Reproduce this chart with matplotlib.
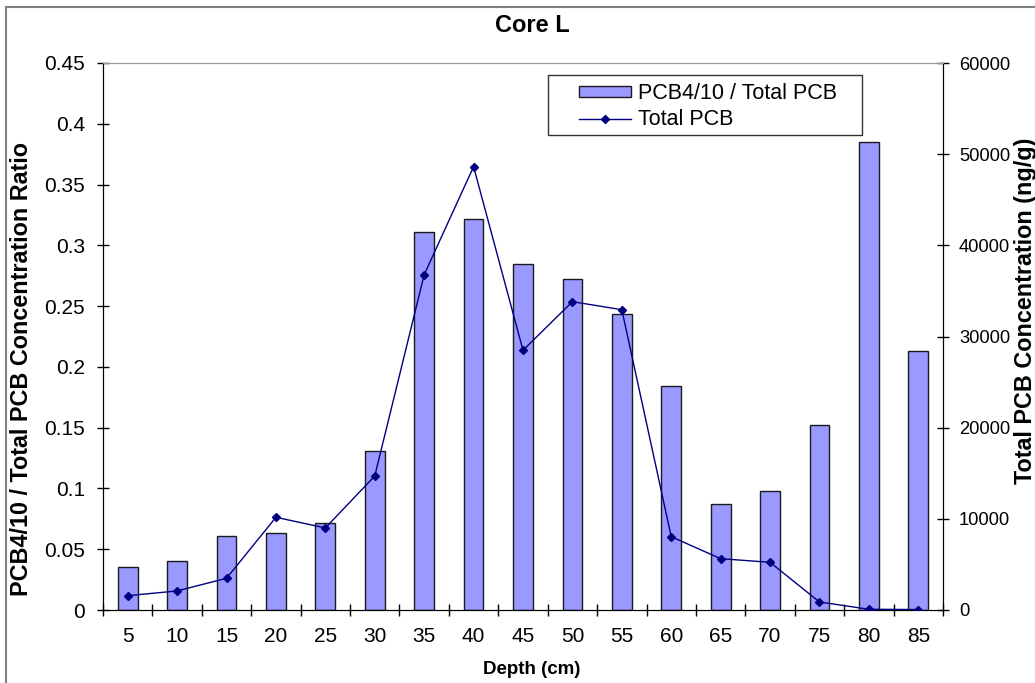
import numpy as np
import matplotlib
matplotlib.use("Agg")
import matplotlib.pyplot as plt
from matplotlib.patches import Rectangle

plt.rcParams['font.family'] = ['Liberation Sans', 'DejaVu Sans']

# depth (cm) categories
depth = ['5', '10', '15', '20', '25', '30', '35', '40', '45',
         '50', '55', '60', '65', '70', '75', '80', '85']
# PCB4/10 / Total PCB ratio (bars, left axis)
ratio = [0.0356, 0.0406, 0.0606, 0.0631, 0.0718, 0.1308, 0.3107, 0.3217, 0.2844,
         0.2726, 0.2435, 0.1843, 0.0875, 0.0979, 0.152, 0.3853, 0.2133]
# Total PCB concentration ng/g (line, right axis)
total_pcb = [1570, 2090, 3480, 10170, 9000, 14700, 36780, 48630, 28490,
             33820, 32940, 8040, 5630, 5230, 880, 80, 50]

left_ticks = [0, 0.05, 0.1, 0.15, 0.2, 0.25, 0.3, 0.35, 0.4, 0.45]
right_ticks = [0, 10000, 20000, 30000, 40000, 50000, 60000]

W, H = 1035, 683
fig = plt.figure(figsize=(W / 100, H / 100), dpi=100)
ax = fig.add_axes([103 / W, 1 - 610 / H, 840 / W, 547 / H])
ax2 = ax.twinx()


def px(xp, yp):
    # figure pixel (from top-left) -> axes fraction
    return (xp - 103) / 840, (610 - yp) / 547


x = np.arange(len(depth))
bars = ax.bar(x, ratio, width=0.4, color='#9999FF', edgecolor='#1a1a1a',
              linewidth=1.0, label='PCB4/10 / Total PCB', zorder=2)
line, = ax2.plot(x, total_pcb, color='#000080', linewidth=1.0, marker='D',
                 markersize=4.5, label='Total PCB', zorder=3)

ax.set_xlim(-0.5, len(depth) - 0.5)
ax.set_ylim(0, 0.45)
ax2.set_ylim(0, 60000)

ax.set_xticks(x)
ax.set_xticklabels(depth)
ax.set_xticks(np.arange(-0.5, len(depth)), minor=True)
ax.tick_params(axis='x', which='major', length=0, pad=12, labelsize=15)
ax.tick_params(axis='x', which='minor', direction='inout', length=9, width=1)

ax.set_yticks(left_ticks)
ax.set_yticklabels(['%g' % v for v in left_ticks])
ax.tick_params(axis='y', direction='inout', length=9, width=1, labelsize=15, pad=8.5)

ax2.set_yticks(right_ticks)
ax2.set_yticklabels([str(v) for v in right_ticks])
ax2.tick_params(axis='y', direction='inout', length=9, width=1, labelsize=13.2, pad=7)

for a in (ax, ax2):
    a.spines['top'].set_color('#999999')
    a.spines['left'].set_color('black')
    a.spines['right'].set_color('black')
    a.spines['bottom'].set_color('black')

fig.text(532 / W, 1 - 25 / H, 'Core L', ha='center', va='center',
         fontsize=17, fontweight='bold')
fig.text(532 / W, 1 - 669 / H, 'Depth (cm)', ha='center', va='center',
         fontsize=13.5, fontweight='bold')
fig.text(22 / W, 1 - 369 / H, 'PCB4/10 / Total PCB Concentration Ratio',
         ha='center', va='center', rotation=90, fontsize=16.8, fontweight='bold')
# partly cut by the right edge, as in the original
fig.text(1014 / W, 1 - 138 / H, 'Total PCB Concentration (ng/g)',
         ha='left', va='top', rotation=90, fontsize=16.8, fontweight='bold')

# legend box drawn separately, entries without frame
x0, y0 = px(548, 135)
x1, y1 = px(862, 75)
ax2.add_patch(Rectangle((x0, y0), x1 - x0, y1 - y0, transform=ax2.transAxes,
                        facecolor='white', edgecolor='#333333', linewidth=1.0,
                        zorder=4))
leg = ax2.legend([bars, line], ['PCB4/10 / Total PCB', 'Total PCB'],
                 loc='upper left', bbox_to_anchor=px(579, 83),
                 borderaxespad=0, borderpad=0, frameon=False, fontsize=15.5,
                 handlelength=2.4, handleheight=0.4, handletextpad=0.35,
                 labelspacing=0.25)
leg.set_zorder(5)

# outer chart border
fig.patches.append(Rectangle((5.5 / W, -0.1), 1.2, 1 - 6.5 / H + 0.1,
                             transform=fig.transFigure, fill=False,
                             edgecolor='#808080', linewidth=1.5))

fig.savefig('out.png', dpi=100)
